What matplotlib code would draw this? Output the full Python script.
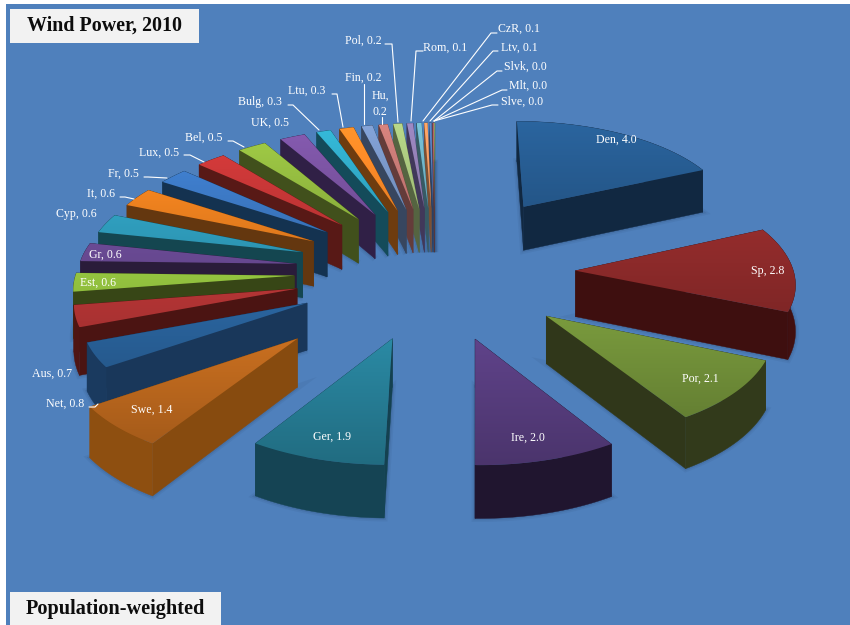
import numpy as np
import matplotlib.pyplot as plt
from matplotlib.patches import Polygon, Rectangle
from matplotlib.colors import to_rgb

plt.rcParams['font.family'] = ['Liberation Serif', 'DejaVu Serif']

names = ['Den', 'Sp', 'Por', 'Ire', 'Ger', 'Swe', 'Net', 'Aus', 'Est', 'Gr', 'Cyp', 'It', 'Fr', 'Lux',
         'Bel', 'UK', 'Bulg', 'Ltu', 'Fin', 'Hu', 'Pol', 'Rom', 'CzR', 'Ltv', 'Slvk', 'Mlt', 'Slve']
values = [3.96, 2.84, 2.1, 2.0, 1.9, 1.4, 0.82, 0.72, 0.62, 0.62, 0.64, 0.64, 0.54, 0.54,
          0.52, 0.46, 0.26, 0.26, 0.2, 0.16, 0.16, 0.11, 0.09, 0.06, 0.04, 0.02, 0.01]
# the figures as the labels print them
shown = [4.0, 2.8, 2.1, 2.0, 1.9, 1.4, 0.8, 0.7, 0.6, 0.6, 0.6, 0.6, 0.5, 0.5,
         0.5, 0.5, 0.3, 0.3, 0.2, 0.2, 0.2, 0.1, 0.1, 0.1, 0.0, 0.0, 0.0]

# top face colour / side colour
top_colors = ['#285f96', '#8c2a2a', '#73923a', '#5a3f82', '#28829b', '#be691e', '#285f96', '#aa3232',
              '#8cb93c', '#64468c', '#2d96b4', '#e67d1e', '#3c78c3', '#c83737', '#96be41', '#7d55a5',
              '#32afcd', '#ff8c28', '#7d9bcd', '#cd7d78', '#afcd82', '#9682b9', '#73b9cd', '#fa9f64',
              '#5a82c3', '#c86e6e', '#a0c878']
side_colors = ['#112841', '#3e0f0f', '#30371a', '#1e142d', '#144150', '#874b0f', '#19375a', '#4b1412',
               '#374616', '#2a1c3a', '#144650', '#64370f', '#143250', '#581916', '#41501c', '#302046',
               '#144b5a', '#6e3c0f', '#37465f', '#643c3a', '#556441', '#41385a', '#375a64', '#7d5032',
               '#2d4164', '#643737', '#50643c']

# how far each slice is pulled out, plane units (radius = 1)
explode = [0.79, 0.645, 0.645, 0.645, 0.645, 0.86] + [0.645] * 21

# text position of each label in pixels: x, y
label_pos = [(616, 140), (768, 271), (700, 379), (528, 438),
             (332, 437), (152, 410), (65, 404), (52, 374),
             (98, 283), (105, 255), (76, 214), (101, 194),
             (123, 174), (159, 153), (204, 138), (270, 123),
             (260, 102), (307, 91), (363, 78), (380, 104),
             (363, 41), (445, 48), (519, 29), (519, 48),
             (525, 67), (528, 86), (522, 102)]

leaders = {
    'Net': [(89, 407), (95, 407), (98, 404)],
    'It': [(120, 197), (125, 197), (134, 199)],
    'Fr': [(144, 177), (148, 177), (167, 178)],
    'Lux': [(184, 155), (190, 155), (204, 162)],
    'Bel': [(228, 141), (233, 141), (244, 147)],
    'Bulg': [(288, 105), (293, 105), (319, 130)],
    'Ltu': [(332, 94), (337, 94), (343, 127)],
    'Fin': [(364, 84), (364, 124)],
    'Hu': [(382, 117), (382, 124)],
    'Pol': [(385, 44), (392, 44), (398, 122)],
    'Rom': [(423, 51), (416, 51), (411, 121)],
    'CzR': [(497, 33), (491, 33), (423, 121)],
    'Ltv': [(498, 51), (493, 51), (430, 121)],
    'Slvk': [(502, 71), (497, 71), (434, 121)],
    'Mlt': [(507, 90), (502, 90), (434, 121)],
    'Slve': [(498, 105), (492, 105), (434, 121)],
}

# projection of the pie plane to the picture
cx, cy = 435, 271.5
A, B = 218, 103
k = 0.085
thick = 46


def project(X, Y):
    s = 1 / (1 + k * Y)
    return cx + A * X * s, cy - B * Y * s, s


def shade(c, f):
    return tuple(min(1, v * f) for v in to_rgb(c))


fig = plt.figure(figsize=(8.5, 6.25), dpi=100, facecolor='white')
ax = fig.add_axes([0, 0, 1, 1])
ax.axis('off')

ax.add_patch(Rectangle((6, 4), 844, 621, facecolor='#4f80bc', lw=0, zorder=0))

total = sum(values)
edges = np.concatenate([[0], np.cumsum(values)]) / total * 2 * np.pi

# far slices first
mids = (edges[:-1] + edges[1:]) / 2
order = sorted(range(len(values)), key=lambda i: -explode[i] * np.cos(mids[i]))

z = 1
for i in order:
    t = np.linspace(edges[i], edges[i + 1], 30)
    ox, oy = explode[i] * np.sin(mids[i]), explode[i] * np.cos(mids[i])
    X = ox + np.sin(t)
    Y = oy + np.cos(t)
    ax_, ay_, as_ = project(ox, oy)
    px, py, ps = project(X, Y)

    top = np.vstack([[ax_, ay_], np.column_stack([px, py])])
    low = np.vstack([[ax_, ay_ + thick * as_], np.column_stack([px, py + thick * ps])])

    # soft shadow round the foot of the slice
    for lw, al in [(5, 0.07), (2.5, 0.12)]:
        ax.add_patch(Polygon(low, closed=True, facecolor='none', edgecolor='#1c3558', lw=lw, alpha=al, zorder=z))
    z += 1

    walls = [
        (np.array([top[0], top[1], low[1], low[0]]), (oy + Y[0]) / 2, 1.0),
        (np.array([top[0], top[-1], low[-1], low[0]]), (oy + Y[-1]) / 2, 1.0),
        (np.vstack([top[1:], low[1:][::-1]]), Y.mean(), 1.05),
    ]
    for pts, d, f in sorted(walls, key=lambda w: -w[1]):
        c = shade(side_colors[i], f)
        ax.add_patch(Polygon(pts, closed=True, facecolor=c, edgecolor=c, lw=0.3, zorder=z))
        z += 1

    # top face with a vertical gradient
    y0, y1 = top[:, 1].min(), top[:, 1].max()
    x0, x1 = top[:, 0].min(), top[:, 0].max()
    ramp = np.linspace(0, 1, 64)
    f = 1.06 - 0.0018 * (y1 - y0) * ramp
    grad = np.array([[shade(top_colors[i], v)] for v in f])
    poly = Polygon(top, closed=True, facecolor='none', edgecolor='none', zorder=z)
    ax.add_patch(poly)
    im = ax.imshow(grad, extent=(x0, x1, y1, y0), aspect='auto', zorder=z, interpolation='bilinear')
    im.set_clip_path(poly)
    z += 1

for name, pts in leaders.items():
    xs, ys = zip(*pts)
    ax.plot(xs, ys, color='white', lw=0.8, zorder=z, solid_capstyle='round')

for name, v, (lx, ly) in zip(names, shown, label_pos):
    s = f'{name}, {v:.1f}'
    if name == 'Hu':
        s = f'{name},\n{v:.1f}'
    ax.text(lx, ly, s, color='white', fontsize=8.6, ha='center', va='center', zorder=z + 1, linespacing=1.5)

ax.add_patch(Rectangle((10, 9), 189, 34, facecolor='#f2f2f2', lw=0, zorder=z))
ax.text(104.5, 26, 'Wind Power, 2010', fontsize=14.4, fontweight='bold', color='#0d0d0d',
        ha='center', va='center', zorder=z + 1)
ax.add_patch(Rectangle((10, 592), 211, 33, facecolor='#f2f2f2', lw=0, zorder=z))
ax.text(115, 609, 'Population-weighted', fontsize=14.6, fontweight='bold', color='#0d0d0d',
        ha='center', va='center', zorder=z + 1)

ax.set_xlim(0, 850)
ax.set_ylim(625, 0)
fig.savefig('out.png', dpi=100)
